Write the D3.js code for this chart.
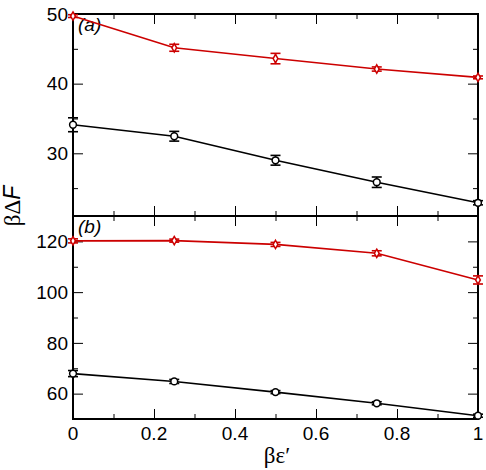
<!DOCTYPE html>
<html>
<head>
<meta charset="utf-8">
<script src="https://cdn.jsdelivr.net/npm/d3@7"></script>
<style>
  body { margin: 0; background: #fff; }
  text { font-family: "Liberation Sans", Arial, sans-serif; }
</style>
</head>
<body>
<div id="chart"></div>
<script>
// x values (beta epsilon')
const xVals = [0, 0.25, 0.5, 0.75, 1];

// panel (a)
const aRed = [49.7, 45.15, 43.6, 42.1, 40.9];
const aRedErr = [0.2, 0.5, 0.75, 0.3, 0.2];
const aBlack = [34.1, 32.45, 29.0, 25.85, 22.9];
const aBlackErr = [1.0, 0.7, 0.7, 0.75, 0.3];

// panel (b)
const bRed = [120.2, 120.3, 118.8, 115.3, 104.8];
const bRedErr = [0.8, 0.6, 0.8, 1.0, 1.6];
const bBlack = [67.9, 64.8, 60.6, 56.2, 51.3];
const bBlackErr = [1.2, 0.8, 0.6, 0.6, 0.6];

const xTicks = [0, 0.2, 0.4, 0.6, 0.8, 1];
const aTicks = [30, 40, 50];
const bTicks = [60, 80, 100, 120];

const width = 486, height = 470,
    margin = ({ left: 73, right: 8 });

let svg = d3.select("#chart")
    .append("svg")
    .attr("width", width)
    .attr("height", height);

let x = d3.scaleLinear()
    .domain([0, 1])
    .range([margin.left, width - margin.right]);

const panels = [
    { top: 14, bottom: 216, domain: [21, 50], ticks: aTicks, minor: [25, 35, 45], label: "(a)",
      series: [[aRed, aRedErr, "#cc0000"], [aBlack, aBlackErr, "#000"]] },
    { top: 216, bottom: 419, domain: [50, 130], ticks: bTicks, minor: [50, 70, 90, 110, 130], label: "(b)",
      series: [[bRed, bRedErr, "#cc0000"], [bBlack, bBlackErr, "#000"]] }
];

const xMinor = d3.range(0, 1.01, 0.1).map(d => +d.toFixed(1));

panels.forEach((p, pi) => {
    let y = d3.scaleLinear().domain(p.domain).range([p.bottom, p.top]);

    // inward ticks on all four sides
    svg.append("g")
        .attr("transform", `translate(0,${p.bottom})`)
        .call(d3.axisTop(x).tickValues(xTicks).tickSize(10).tickFormat(""));
    svg.append("g")
        .attr("transform", `translate(0,${p.bottom})`)
        .call(d3.axisTop(x).tickValues(xMinor).tickSize(5).tickFormat(""));
    svg.append("g")
        .attr("transform", `translate(0,${p.top})`)
        .call(d3.axisBottom(x).tickValues(xTicks).tickSize(10).tickFormat(""));
    svg.append("g")
        .attr("transform", `translate(0,${p.top})`)
        .call(d3.axisBottom(x).tickValues(xMinor).tickSize(5).tickFormat(""));

    svg.append("g")
        .attr("transform", `translate(${margin.left},0)`)
        .call(d3.axisRight(y).tickValues(p.ticks).tickSize(10).tickFormat(""));
    svg.append("g")
        .attr("transform", `translate(${margin.left},0)`)
        .call(d3.axisRight(y).tickValues(p.minor).tickSize(5).tickFormat(""));
    svg.append("g")
        .attr("transform", `translate(${width - margin.right},0)`)
        .call(d3.axisLeft(y).tickValues(p.ticks).tickSize(10).tickFormat(""));
    svg.append("g")
        .attr("transform", `translate(${width - margin.right},0)`)
        .call(d3.axisLeft(y).tickValues(p.minor).tickSize(5).tickFormat(""));

    // tick labels
    svg.append("g").selectAll("text")
        .data(p.ticks)
        .join("text")
        .attr("x", margin.left - 5)
        .attr("y", d => y(d))
        .attr("dy", "0.36em")
        .attr("text-anchor", "end")
        .attr("font-size", 19)
        .text(d => d);

    // frame
    svg.append("rect")
        .attr("x", margin.left)
        .attr("y", p.top)
        .attr("width", width - margin.right - margin.left)
        .attr("height", p.bottom - p.top)
        .attr("fill", "none")
        .attr("stroke", "#000")
        .attr("stroke-width", 2);

    svg.append("text")
        .attr("x", margin.left + 5)
        .attr("y", p.top + 17)
        .attr("font-size", 19)
        .attr("font-style", "italic")
        .text(p.label);

    p.series.forEach(([vals, errs, color]) => {
        const pts = xVals.map((d, i) => ({ x: d, y: vals[i], e: errs[i] }));

        svg.append("path")
            .datum(pts)
            .attr("fill", "none")
            .attr("stroke", color)
            .attr("stroke-width", 1.6)
            .attr("d", d3.line().x(d => x(d.x)).y(d => y(d.y)));

        let eb = svg.append("g").attr("stroke", color).attr("stroke-width", 1.6);
        pts.forEach(d => {
            eb.append("line").attr("x1", x(d.x)).attr("x2", x(d.x))
                .attr("y1", y(d.y - d.e)).attr("y2", y(d.y + d.e));
            [d.y - d.e, d.y + d.e].forEach(v => {
                eb.append("line").attr("x1", x(d.x) - 5).attr("x2", x(d.x) + 5)
                    .attr("y1", y(v)).attr("y2", y(v));
            });
        });

        const isRed = color !== "#000";
        svg.append("g").selectAll("path")
            .data(pts)
            .join("path")
            .attr("transform", d => `translate(${x(d.x)},${y(d.y)})`)
            .attr("d", d3.symbol().type(isRed ? d3.symbolDiamond : d3.symbolCircle).size(isRed ? 20 : 36))
            .attr("fill", "#fff")
            .attr("stroke", color)
            .attr("stroke-width", 1.5);
    });
});

// x tick labels
svg.append("g").selectAll("text")
    .data(xTicks)
    .join("text")
    .attr("x", d => x(d))
    .attr("y", 440)
    .attr("text-anchor", "middle")
    .attr("font-size", 19)
    .text(d => d);

svg.append("text")
    .attr("x", 277)
    .attr("y", 463)
    .attr("text-anchor", "middle")
    .attr("font-size", 23)
    .style("font-family", "'Liberation Serif', serif")
    .text("βε′");

let yl = svg.append("text")
    .attr("transform", "translate(20,206) rotate(-90)")
    .attr("text-anchor", "middle")
    .attr("font-size", 23)
    .style("font-family", "'Liberation Serif', serif");
yl.append("tspan").text("βΔ");
yl.append("tspan").attr("font-style", "italic")
    .style("font-family", "'Liberation Sans', sans-serif").text("F");
</script>
</body>
</html>
